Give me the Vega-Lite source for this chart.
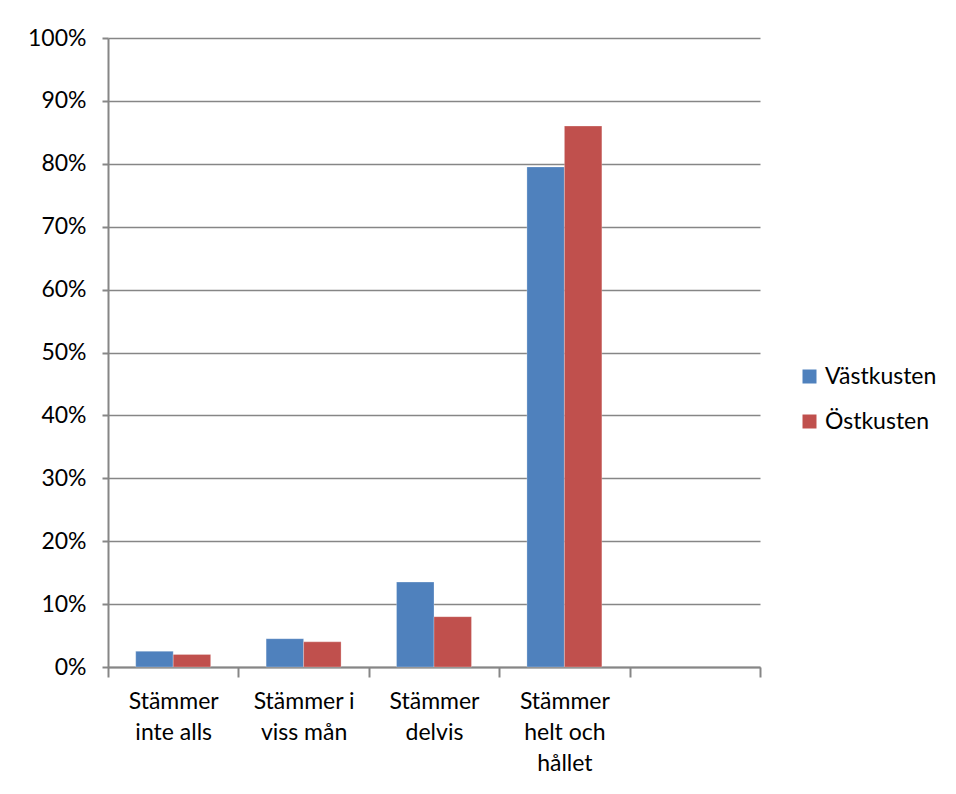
{
  "$schema": "https://vega.github.io/schema/vega-lite/v6.json",
  "autosize": "none",
  "width": 652,
  "height": 629,
  "padding": {"left": 108, "top": 38, "right": 196, "bottom": 127},
  "background": "white",
  "config": {
    "view": {"stroke": null},
    "font": "Lato",
    "axis": {"labelFont": "Lato", "labelColor": "black", "labelFontSize": 23, "domainColor": "#868686", "tickColor": "#868686", "gridColor": "#868686", "domainWidth": 2, "tickWidth": 2, "gridWidth": 1.5, "labelOverlap": false},
    "legend": {"labelFont": "Lato", "labelFontSize": 23, "labelColor": "black"}
  },
  "data": {
    "values": [
      {"kategori": "Stämmer inte alls", "region": "Västkusten", "andel": 0.025},
      {"kategori": "Stämmer inte alls", "region": "Östkusten", "andel": 0.02},
      {"kategori": "Stämmer i viss mån", "region": "Västkusten", "andel": 0.045},
      {"kategori": "Stämmer i viss mån", "region": "Östkusten", "andel": 0.04},
      {"kategori": "Stämmer delvis", "region": "Västkusten", "andel": 0.135},
      {"kategori": "Stämmer delvis", "region": "Östkusten", "andel": 0.08},
      {"kategori": "Stämmer helt och hållet", "region": "Västkusten", "andel": 0.795},
      {"kategori": "Stämmer helt och hållet", "region": "Östkusten", "andel": 0.86}
    ]
  },
  "mark": {"type": "bar", "stroke": "white", "strokeOpacity": 0.5, "strokeWidth": 0.5},
  "encoding": {
    "x": {
      "field": "kategori",
      "type": "nominal",
      "sort": null,
      "scale": {"domain": ["Stämmer inte alls", "Stämmer i viss mån", "Stämmer delvis", "Stämmer helt och hållet", "tom"], "paddingInner": 0, "paddingOuter": 0},
      "axis": {
        "title": null,
        "labelAngle": 0,
        "tickBand": "extent",
        "tickSize": 10,
        "labelPadding": 13,
        "labelBaseline": "top",
        "labelLineHeight": 31,
        "labelLimit": 0,
        "labelExpr": "datum.value == 'Stämmer inte alls' ? ['Stämmer', 'inte alls'] : datum.value == 'Stämmer i viss mån' ? ['Stämmer i', 'viss mån'] : datum.value == 'Stämmer delvis' ? ['Stämmer', 'delvis'] : datum.value == 'Stämmer helt och hållet' ? ['Stämmer', 'helt och', 'hållet'] : ''"
      }
    },
    "xOffset": {"field": "region", "type": "nominal", "scale": {"paddingInner": 0, "paddingOuter": 0.74}},
    "y": {
      "field": "andel",
      "type": "quantitative",
      "scale": {"domain": [0, 1]},
      "axis": {"title": null, "format": ".0%", "values": [0, 0.1, 0.2, 0.3, 0.4, 0.5, 0.6, 0.7, 0.8, 0.9, 1], "tickSize": 6, "labelPadding": 16, "grid": true}
    },
    "color": {
      "field": "region",
      "type": "nominal",
      "scale": {"domain": ["Västkusten", "Östkusten"], "range": ["#4F81BD", "#C0504D"]},
      "legend": {"title": null, "orient": "none", "legendX": 690, "legendY": 327, "symbolType": "square", "symbolSize": 196, "symbolStrokeWidth": 0, "rowPadding": 21, "labelOffset": 4}
    }
  }
}
